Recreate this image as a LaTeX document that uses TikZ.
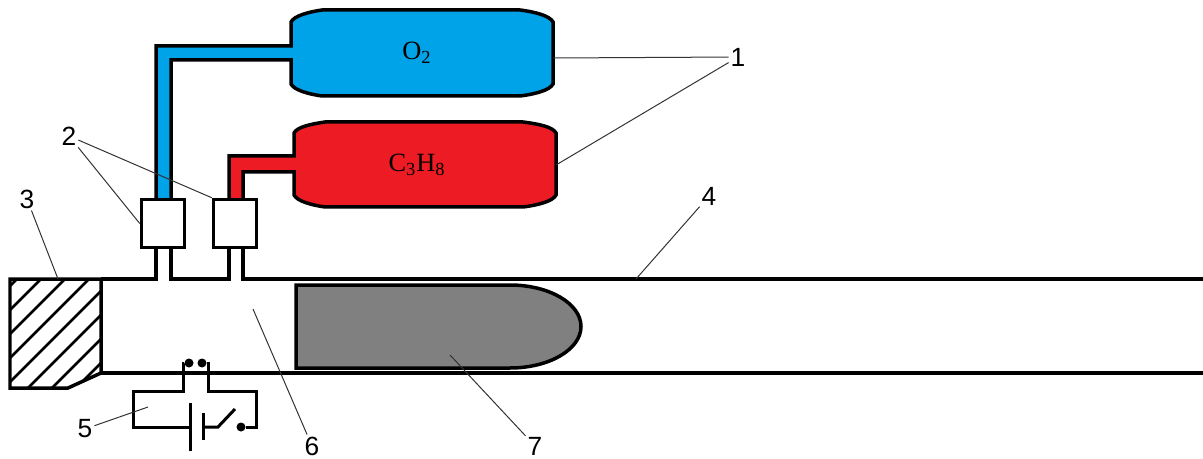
\documentclass[tikz,border=0pt]{standalone}
\usepackage{fontspec}
\setmainfont{Liberation Serif}
\newfontfamily\labelfont{Liberation Sans}
\tikzset{
  wall/.style={line width=0.07cm,line join=miter},
  wire/.style={line width=0.06cm,line join=miter},
  leader/.style={line width=0.02cm,black!80},
  valve/.style={draw,wall,fill=white,rectangle,minimum width=0.86cm,minimum height=0.96cm,inner sep=0pt},
  callout/.style={inner sep=1pt,font=\labelfont\fontsize{15}{15}\selectfont},
  gas/.style={inner sep=0pt,font=\fontsize{15}{16}\selectfont},
  contact/.style={circle,fill=black,minimum size=0.18cm,inner sep=0pt}
}
\definecolor{oxygen}{HTML}{00A2E8}
\definecolor{propane}{HTML}{ED1C24}
\definecolor{piston}{gray}{0.5}
\begin{document}
\begin{tikzpicture}[x=0.02cm,y=-0.02cm]
    \useasboundingbox (0,0) rectangle (1203,459);

    % gas tanks with their pipes
    \draw[wall,fill=oxygen] (156,205) -- (156,46) -- (291,46) -- (291,22)
      .. controls (294,16) and (308,12) .. (322,10) -- (520,10)
      .. controls (536,12) and (550,16) .. (553,22) -- (553,84)
      .. controls (550,90) and (536,94) .. (520,96) -- (322,96)
      .. controls (308,94) and (294,90) .. (291,84) -- (291,60)
      -- (171,60) -- (171,205);
    \draw[wall,fill=propane] (229,205) -- (229,156) -- (294,156) -- (294,133)
      .. controls (297,127) and (311,124) .. (325,122) -- (523,122)
      .. controls (539,124) and (553,127) .. (556,133) -- (556,195)
      .. controls (553,201) and (539,205) .. (523,207) -- (325,207)
      .. controls (311,205) and (297,201) .. (294,195) -- (294,172)
      -- (243,172) -- (243,205);
    \node[gas] (o2) at (417,53) {O\textsubscript{2}};
    \node[gas] (c3h8) at (417,165) {C\textsubscript{3}H\textsubscript{8}};
    \coordinate (tankO) at (553,58);
    \coordinate (tankP) at (556,165);

    % valves
    \node[valve] (v1) at (163,223.5) {};
    \node[valve] (v2) at (235,223.5) {};

    % breech plug
    \begin{scope}
      \clip (10,279) -- (101,279) -- (101,373) -- (68,388) -- (10,388) -- cycle;
      \foreach \c in {296,320,344,368,392,416,440,464}
        \draw[wire,line width=0.05cm] (\c-500,500) -- (\c-200,200);
    \end{scope}
    \draw[wall] (10,279) -- (101,279) -- (101,373) -- (68,388) -- (10,388) -- cycle;
    \coordinate (plug) at (58,279);

    % tube
    \draw[wall] (101,279) -- (156,279) -- (156,248);
    \draw[wall] (171,248) -- (171,279) -- (229,279) -- (229,248);
    \draw[wall] (243,248) -- (243,279) -- (1203,279);
    \draw[wall] (101,373) -- (1203,373);
    \coordinate (tube) at (636,279);
    \coordinate (chamber) at (253,309);

    % projectile
    \draw[wall,fill=piston] (510,285) -- (296,285) -- (296,368) -- (510,368)
      arc[start angle=90,end angle=-90,x radius=71,y radius=41.5];
    \coordinate (shell) at (450,355);

    % ignition circuit
    \node[contact] (s1) at (189,363) {};
    \node[contact] (s2) at (202,363) {};
    \node[contact] (sw) at (241,427) {};
    \coordinate (circuit) at (148,407);
    \draw[wire] (s1) -- (183,363) -- (183,391) -- (133,391) -- (133,427) -- (190,427);
    \draw[wire] (190,403) -- (190,451);
    \draw[wire] (203,413) -- (203,440);
    \draw[wire] (203,427) -- (218,427) -- (235,409);
    \draw[wire] (sw) -- (256,427) -- (256,391) -- (208,391) -- (208,363) -- (s2);

    % callouts
    \node[callout] (n1) at (738,57) {1};
    \node[callout] (n2) at (69,136) {2};
    \node[callout] (n3) at (27,199) {3};
    \node[callout] (n4) at (709,196) {4};
    \node[callout] (n5) at (85,429) {5};
    \node[callout] (n6) at (312,446) {6};
    \node[callout] (n7) at (535,446) {7};

    \path[leader]
    (n1) edge (tankO)
    (n1) edge (tankP)

    (n2) edge (v1.west)
    (n2) edge (v2.north west)

    (n3) edge (plug)
    (n4) edge (tube)
    (n5) edge (circuit)
    (n6) edge (chamber)
    (n7) edge (shell)
    ;
\end{tikzpicture}
\end{document}
